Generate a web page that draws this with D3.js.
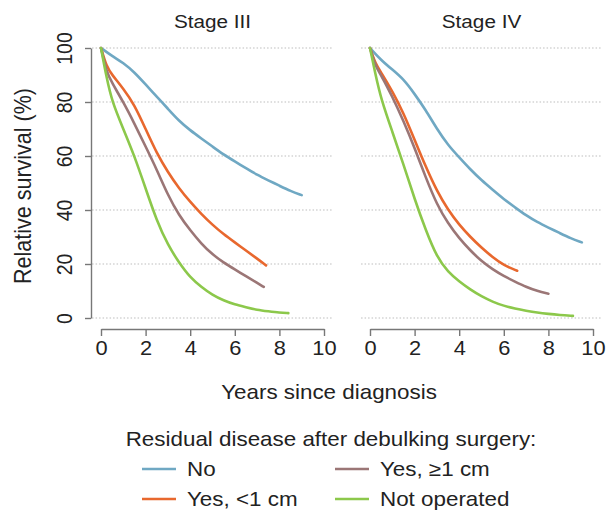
<!DOCTYPE html>
<html lang="en">
<head>
  <meta charset="utf-8">
  <title>Relative survival by residual disease</title>
  <script src="https://d3js.org/d3.v7.min.js"></script>
  <style>
    body { margin: 0; background: #fff; }
    svg text { font-family: "Liberation Sans", Arial, Helvetica, sans-serif; fill: #222; }
  </style>
</head>
<body>
  <div id="chart"></div>
  <script>
    // Data: [years since diagnosis, relative survival %]
    var stages = ["Stage III", "Stage IV"];
    var seriesNames = ["No", "Yes, <1 cm", "Yes, \u22651 cm", "Not operated"];
    var seriesColors = ["#6fa8c3", "#e8682e", "#9b7676", "#8cc84b"];
    var yTicks = [0, 20, 40, 60, 80, 100];
    var xTicks = [0, 2, 4, 6, 8, 10];

    var s3No = [[0,100],[0.5,97],[1,94.5],[1.5,91],[2,86.5],[2.5,82],[3,77.5],[3.5,73],[4,69.5],[4.5,66.5],[5,63.5],[5.5,60.5],[6,58],[6.5,55.5],[7,53],[7.5,51],[8,49],[8.5,47],[9,45.5]];
    var s3Small = [[0,100],[0.25,93],[0.5,90],[1,85],[1.5,79],[2,70],[2.5,61],[3,54],[3.5,48],[4,43],[4.5,38.5],[5,34.5],[5.5,31],[6,28],[6.5,25],[7,22],[7.4,19.5]];
    var s3Large = [[0,100],[0.25,91],[0.5,87],[1,80],[1.5,72],[2,63.5],[2.5,55],[3,45.5],[3.5,38],[4,32.5],[4.5,27.5],[5,23.5],[5.5,20.5],[6,18],[6.5,15.5],[7,13],[7.3,11.5]];
    var s3NotOp = [[0,100],[0.25,89],[0.5,80],[1,70],[1.5,60],[2,48],[2.5,36],[3,27],[3.5,20.5],[4,15],[4.5,11.5],[5,8.5],[5.5,6.5],[6,5],[6.5,4],[7,3],[7.5,2.5],[8,2],[8.4,1.8]];

    var s4No = [[0,100],[0.5,95.5],[1,92],[1.5,88.5],[2,83],[2.5,77],[3,70],[3.5,64],[4,59.5],[4.5,55],[5,51],[5.5,47.5],[6,44],[6.5,41],[7,38],[7.5,35.5],[8,33.5],[8.5,31.5],[9,29.5],[9.5,28]];
    var s4Small = [[0,100],[0.25,94],[0.5,91],[1,84],[1.5,76],[2,66],[2.5,56],[3,47],[3.5,40],[4,34.5],[4.5,30],[5,26],[5.5,22.5],[6,19.5],[6.6,17.5]];
    var s4Large = [[0,100],[0.25,93],[0.5,90],[1,82],[1.5,73],[2,63],[2.5,52],[3,42],[3.5,35],[4,29.5],[4.5,25],[5,21],[5.5,18],[6,15.5],[6.5,13.5],[7,11.5],[7.5,10],[8,9]];
    var s4NotOp = [[0,100],[0.25,90],[0.5,81],[1,69],[1.5,57],[2,44],[2.5,32.5],[3,22.5],[3.5,17],[4,13.5],[4.5,10.5],[5,8],[5.5,6],[6,4.5],[6.5,3.5],[7,2.7],[7.5,2],[8,1.5],[8.5,1.1],[9.1,0.8]];

    var stageSeries = [[s3No, s3Small, s3Large, s3NotOp], [s4No, s4Small, s4Large, s4NotOp]];

    // Layout
    var width = 613, height = 511;
    var stretch = 1.12; // the reference text is a bit wider than it is tall
    var panelLeft = [101, 370];
    var panelWidth = 223;

    var svg = d3.select("#chart").append("svg")
      .attr("width", width)
      .attr("height", height);

    var y = d3.scaleLinear().domain([0, 100]).range([318, 48]);

    // helper for stretched text
    function addText(parent, x, yy, str, size, anchor, rotate) {
      return parent.append("text")
        .attr("transform", "translate(" + x + "," + yy + ") scale(" + stretch + ",1)" + (rotate ? " rotate(" + rotate + ")" : ""))
        .attr("text-anchor", anchor || "middle")
        .style("font-size", size + "px")
        .text(str);
    }

    var line = d3.line().curve(d3.curveBasis);

    stages.forEach(function (stage, i) {
      var x = d3.scaleLinear().domain([0, 10]).range([panelLeft[i], panelLeft[i] + panelWidth]);
      var g = svg.append("g");

      // dotted gridlines
      g.selectAll(".grid").data(yTicks).enter().append("line")
        .attr("x1", x(-0.4)).attr("x2", x(10.4))
        .attr("y1", function (d) { return y(d); })
        .attr("y2", function (d) { return y(d); })
        .attr("stroke", "#bdbdbd")
        .attr("stroke-width", 1.2)
        .attr("stroke-dasharray", "1.5,2");

      // curves
      line.x(function (d) { return x(d[0]); }).y(function (d) { return y(d[1]); });
      stageSeries[i].forEach(function (s, j) {
        g.append("path")
          .attr("fill", "none")
          .attr("stroke", seriesColors[j])
          .attr("stroke-width", 2.6)
          .attr("stroke-linecap", "round")
          .attr("d", line(s));
      });

      // x axis
      var xAxis = g.append("g")
        .attr("transform", "translate(0,329)")
        .call(d3.axisBottom(x).tickValues(xTicks).tickSize(7).tickSizeOuter(0));
      xAxis.selectAll("path, line").attr("stroke", "#777").attr("stroke-width", 1.4);
      xAxis.selectAll("text")
        .attr("y", 0).attr("dy", 0)
        .attr("transform", "translate(0,26) scale(" + stretch + ",1)")
        .style("font-size", "19.5px")
        .attr("fill", "#222");

      // panel title
      addText(g, x(5), 28, stage, 18.5);
    });

    // y axis (left panel only)
    var yAxis = svg.append("g")
      .attr("transform", "translate(91,0)")
      .call(d3.axisLeft(y).tickValues(yTicks).tickSize(6).tickSizeOuter(0));
    yAxis.selectAll("path, line").attr("stroke", "#777").attr("stroke-width", 1.4);
    yAxis.selectAll("text")
      .attr("x", 0).attr("dy", 0)
      .attr("transform", "translate(-19,0) scale(" + stretch + ",1) rotate(-90)")
      .attr("text-anchor", "middle")
      .style("font-size", "19.5px")
      .attr("fill", "#222");

    // axis titles
    addText(svg, 31, 186, "Relative survival (%)", 21.5, "middle", -90);
    addText(svg, 329, 399, "Years since diagnosis", 20);

    // legend
    addText(svg, 331, 446, "Residual disease after debulking surgery:", 20);
    var legendPos = [[142, 469], [142, 499], [335, 469], [335, 499]];
    seriesNames.forEach(function (name, j) {
      var p = legendPos[j];
      svg.append("line")
        .attr("x1", p[0]).attr("x2", p[0] + 34)
        .attr("y1", p[1]).attr("y2", p[1])
        .attr("stroke", seriesColors[j])
        .attr("stroke-width", 2.6);
      addText(svg, p[0] + 45, p[1] + 7, name, 20, "start");
    });
  </script>
</body>
</html>
